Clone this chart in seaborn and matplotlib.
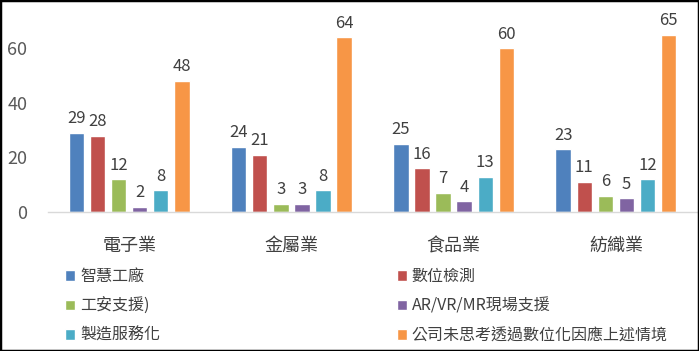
import pandas as pd
import seaborn as sns
import matplotlib.pyplot as plt
from matplotlib.patches import Rectangle

# Data
industries = ['電子業', '金屬業', '食品業', '紡織業']
items = ['智慧工廠', '數位檢測', '工安支援)', 'AR/VR/MR現場支援', '製造服務化', '公司未思考透過數位化因應上述情境']
values = {
    '智慧工廠': [29, 24, 25, 23],
    '數位檢測': [28, 21, 16, 11],
    '工安支援)': [12, 3, 7, 6],
    'AR/VR/MR現場支援': [2, 3, 4, 5],
    '製造服務化': [8, 8, 13, 12],
    '公司未思考透過數位化因應上述情境': [48, 64, 60, 65],
}
colors = ['#4F81BD', '#C0504D', '#9BBB59', '#8064A2', '#4BACC6', '#F79646']

rows = []
for item in items:
    for ind, v in zip(industries, values[item]):
        rows.append({'industry': ind, 'item': item, 'value': v})
df = pd.DataFrame(rows)

sns.set_style('white')
plt.rcParams['font.family'] = ['Noto Sans CJK TC', 'DejaVu Sans']

fig = plt.figure(figsize=(6.99, 3.51), dpi=100)
ax = fig.add_axes([48 / 699, 1 - 212 / 351, (697 - 48) / 699, (212 - 21) / 351])

sns.barplot(data=df, x='industry', y='value', hue='item', hue_order=items,
            palette=colors, saturation=1, width=0.78, gap=0.27, ax=ax)

for c in ax.containers:
    ax.bar_label(c, padding=4, fontsize=12, color='#404040')

ax.set_ylim(0, 70)
ax.set_yticks([0, 20, 40, 60])
ax.set_xlabel('')
ax.set_ylabel('')
ax.tick_params(axis='y', length=0, pad=15, labelsize=13, labelcolor='#595959')
ax.tick_params(axis='x', length=0, pad=18, labelsize=13, labelcolor='#404040')
for s in ['top', 'right', 'left']:
    ax.spines[s].set_visible(False)
ax.spines['bottom'].set_color('#D9D9D9')
ax.spines['bottom'].set_linewidth(1)

# Legend, two columns below the chart
handles, labels = ax.get_legend_handles_labels()
ax.get_legend().remove()
order = [0, 2, 4, 1, 3, 5]
fig.legend([handles[i] for i in order], [labels[i] for i in order],
           loc='upper left', bbox_to_anchor=(65 / 699, 1 - 268 / 351),
           ncol=2, frameon=False, fontsize=11.5, labelcolor='#404040',
           handlelength=0.65, handleheight=0.65, handletextpad=0.3,
           columnspacing=14.8, labelspacing=0.78, borderpad=0, borderaxespad=0)

# black frame round the picture
fig.patches.append(Rectangle((0, 0), 1, 1, transform=fig.transFigure,
                             fill=False, edgecolor='black', linewidth=2.5))

fig.savefig('out.png', dpi=100)
